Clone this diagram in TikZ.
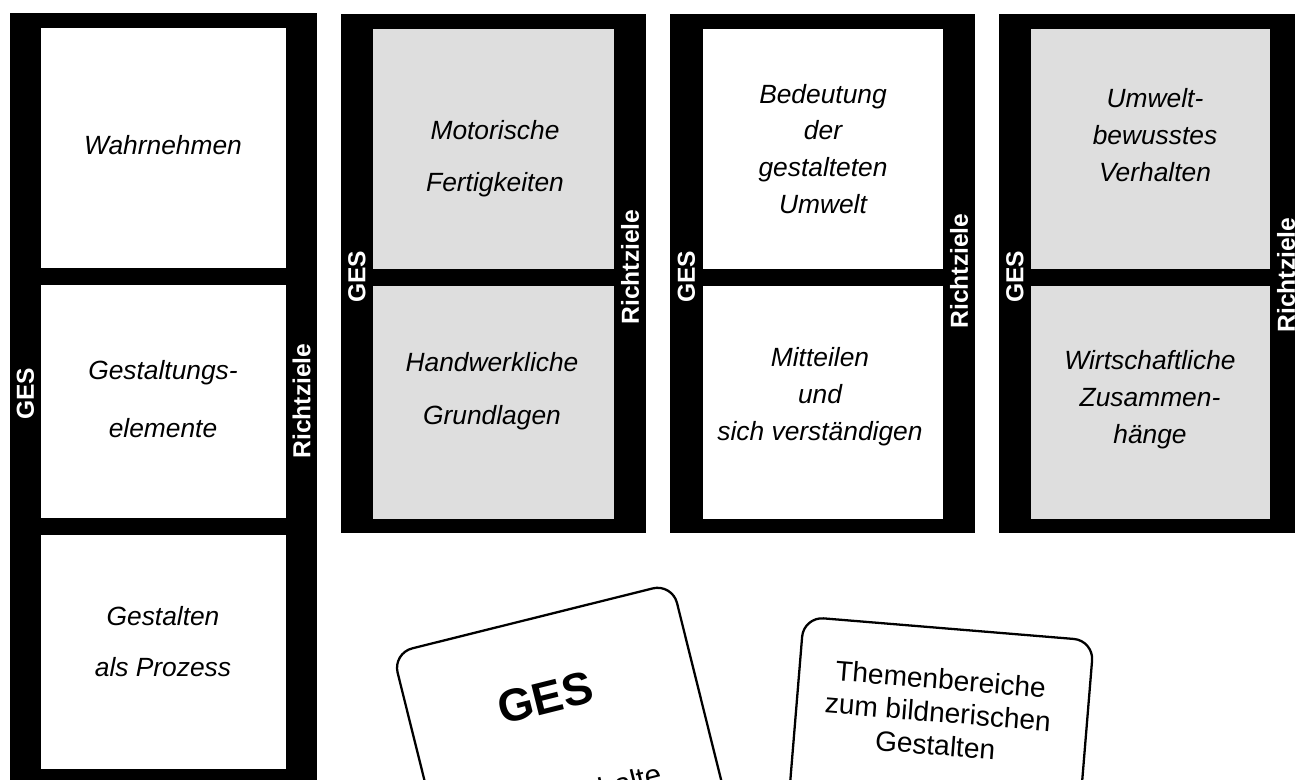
\documentclass[tikz,border=0pt]{standalone}
\usepackage{fontspec}
\setmainfont{Liberation Sans}
\definecolor{feldgrau}{gray}{0.87}

\begin{document}
\begin{tikzpicture}[x=0.02cm, y=-0.02cm,
  feld/.style={fill=#1, inner sep=0pt, minimum width=4.82cm},
  feld/.default=white,
  txt/.style={font=\fontsize{15}{#1}\selectfont\itshape, align=center, inner sep=0pt},
  txt/.default=21,
  side/.style={text=white, font=\fontsize{14}{16}\selectfont\bfseries, rotate=90, inner sep=0pt},
  karte/.style={draw, line width=1.3pt, fill=white, rounded corners=0.4cm, inner sep=0pt}]
\useasboundingbox (0,0) rectangle (1295,779);
\fill[white] (0,0) rectangle (1295,779);
\clip (0,0) rectangle (1295,779);
% Wahrnehmen / Gestaltungselemente / Prozess
\fill (10,13) rectangle (317,800);
\node[feld, minimum width=4.9cm, minimum height=4.8cm] (b11) at (163.5,148) {};
\node[feld, minimum width=4.9cm, minimum height=4.66cm] (b12) at (163.5,401.5) {};
\node[feld, minimum width=4.9cm, minimum height=4.68cm] (b13) at (163.5,652) {};
\node[txt] (t11) at (163,145) {Wahrnehmen};
\node[txt=33] (t12) at (163,399) {Gestaltungs-\\elemente};
\node[txt=29] (t13) at (163,642) {Gestalten\\als Prozess};
\node[side] (ges1) at (25.5,394) {GES};
\node[side] (rz1) at (301.5,401) {Richtziele};
% Motorik / Handwerk
\fill (341,14) rectangle (646,533);
\node[feld=feldgrau, minimum height=4.8cm] (b21) at (493.5,149) {};
\node[feld=feldgrau, minimum height=4.66cm] (b22) at (493.5,402.5) {};
\node[txt=29.6] (t21) at (495,159) {Motorische\\Fertigkeiten};
\node[txt=30] (t22) at (492,391) {Handwerkliche\\Grundlagen};
\node[side] (ges2) at (357,277) {GES};
\node[side] (rz2) at (630,267) {Richtziele};
% Umwelt / Mitteilen
\fill (670,14) rectangle (975,533);
\node[feld, minimum width=4.8cm, minimum height=4.8cm] (b31) at (823,149) {};
\node[feld, minimum width=4.8cm, minimum height=4.66cm] (b32) at (823,402.5) {};
\node[txt] (t31) at (823,149) {Bedeutung\\der\\gestalteten\\Umwelt};
\node[txt] (t32) at (820,397) {Mitteilen\\und\\sich verständigen};
\node[side] (ges3) at (686.5,277) {GES};
\node[side] (rz3) at (959,271) {Richtziele};
% Verhalten / Wirtschaft
\fill (999,14) rectangle (1320,533);
\node[feld=feldgrau, minimum width=4.78cm, minimum height=4.8cm] (b41) at (1150.5,149) {};
\node[feld=feldgrau, minimum width=4.78cm, minimum height=4.66cm] (b42) at (1150.5,402.5) {};
\node[txt] (t41) at (1155,135) {Umwelt-\\bewusstes\\Verhalten};
\node[txt] (t42) at (1150,400) {Wirtschaftliche\\Zusammen-\\hänge};
\node[side] (ges4) at (1015,277) {GES};
\node[side] (rz4) at (1286,275) {Richtziele};
% Karten
\node[karte, minimum width=5.76cm, minimum height=7.2cm, rotate=14] (k1) at (576,793) {};
\node[font=\fontsize{26}{30}\selectfont\bfseries, rotate=14] (k1ges) at (545,698) {GES};
\node[font=\fontsize{17}{20}\selectfont, rotate=14] (k1inh) at (618,784) {Inhalte};
\node[karte, minimum width=5.82cm, minimum height=7.2cm, rotate=-4.7] (k2) at (934,808) {};
\node[font=\fontsize{16}{18.8}\selectfont, align=center, rotate=-4.7] (k2txt) at (938,712)
  {Themenbereiche\\zum bildnerischen\\Gestalten};
\end{tikzpicture}
\end{document}
